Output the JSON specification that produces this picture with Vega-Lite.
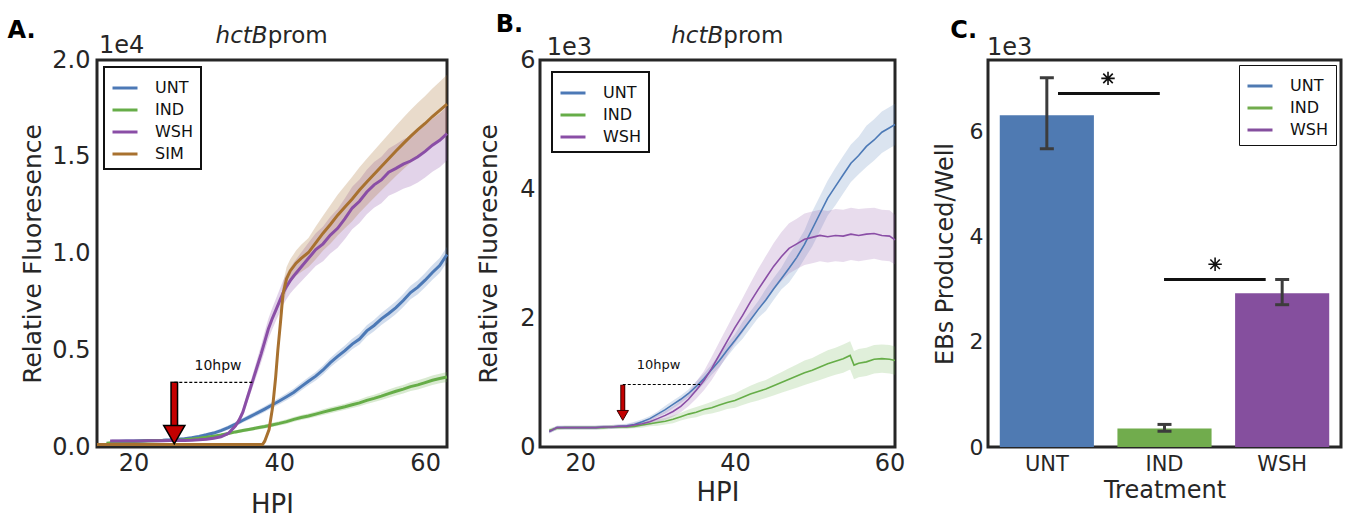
{
  "$schema": "https://vega.github.io/schema/vega-lite/v6.json",
  "background": "white",
  "padding": {"left": 5, "top": 11, "right": 5, "bottom": 5},
  "bounds": "flush",
  "spacing": 93,
  "config": {
    "font": "DejaVu Sans",
    "view": {"stroke": "#262626", "strokeWidth": 3},
    "axis": {"domain": false, "ticks": false, "grid": false, "labelColor": "#262626", "titleColor": "#262626", "labelFontSize": 24, "titleFontSize": 25, "titleFontWeight": "normal"},
    "legend": {"symbolType": "stroke", "symbolSize": 625, "symbolStrokeWidth": 3, "symbolOpacity": 1, "labelFontSize": 16, "labelColor": "#111111", "labelOffset": 16, "rowPadding": -1, "padding": 7, "strokeColor": "#111111", "fillColor": "#ffffff", "cornerRadius": 0}
  },
  "resolve": {"scale": {"color": "independent", "fill": "independent", "stroke": "independent"}},
  "datasets": {
    "a": [
      {"s":"UNT","h":17,"v":0.030,"lo":0.024,"hi":0.036},{"s":"UNT","h":18,"v":0.030,"lo":0.024,"hi":0.036},{"s":"UNT","h":19,"v":0.031,"lo":0.025,"hi":0.037},{"s":"UNT","h":20,"v":0.031,"lo":0.025,"hi":0.037},{"s":"UNT","h":21,"v":0.032,"lo":0.026,"hi":0.038},{"s":"UNT","h":22,"v":0.033,"lo":0.027,"hi":0.039},{"s":"UNT","h":23,"v":0.034,"lo":0.028,"hi":0.040},{"s":"UNT","h":24,"v":0.035,"lo":0.029,"hi":0.041},{"s":"UNT","h":25,"v":0.037,"lo":0.030,"hi":0.044},{"s":"UNT","h":26,"v":0.040,"lo":0.033,"hi":0.047},{"s":"UNT","h":27,"v":0.043,"lo":0.036,"hi":0.050},{"s":"UNT","h":28,"v":0.048,"lo":0.040,"hi":0.056},{"s":"UNT","h":29,"v":0.055,"lo":0.047,"hi":0.063},{"s":"UNT","h":30,"v":0.063,"lo":0.054,"hi":0.072},{"s":"UNT","h":31,"v":0.072,"lo":0.062,"hi":0.082},{"s":"UNT","h":32,"v":0.085,"lo":0.075,"hi":0.095},{"s":"UNT","h":33,"v":0.100,"lo":0.089,"hi":0.111},{"s":"UNT","h":34,"v":0.118,"lo":0.106,"hi":0.130},{"s":"UNT","h":35,"v":0.138,"lo":0.126,"hi":0.150},{"s":"UNT","h":36,"v":0.157,"lo":0.144,"hi":0.170},{"s":"UNT","h":37,"v":0.176,"lo":0.162,"hi":0.190},{"s":"UNT","h":38,"v":0.196,"lo":0.181,"hi":0.211},{"s":"UNT","h":39,"v":0.217,"lo":0.201,"hi":0.233},{"s":"UNT","h":40,"v":0.238,"lo":0.221,"hi":0.255},{"s":"UNT","h":41,"v":0.260,"lo":0.242,"hi":0.278},{"s":"UNT","h":42,"v":0.283,"lo":0.264,"hi":0.302},{"s":"UNT","h":43,"v":0.312,"lo":0.292,"hi":0.332},{"s":"UNT","h":44,"v":0.340,"lo":0.319,"hi":0.361},{"s":"UNT","h":45,"v":0.366,"lo":0.344,"hi":0.388},{"s":"UNT","h":46,"v":0.398,"lo":0.375,"hi":0.421},{"s":"UNT","h":47,"v":0.436,"lo":0.412,"hi":0.460},{"s":"UNT","h":48,"v":0.468,"lo":0.443,"hi":0.493},{"s":"UNT","h":49,"v":0.498,"lo":0.472,"hi":0.524},{"s":"UNT","h":50,"v":0.532,"lo":0.505,"hi":0.559},{"s":"UNT","h":51,"v":0.558,"lo":0.530,"hi":0.586},{"s":"UNT","h":52,"v":0.600,"lo":0.571,"hi":0.629},{"s":"UNT","h":53,"v":0.628,"lo":0.598,"hi":0.658},{"s":"UNT","h":54,"v":0.662,"lo":0.631,"hi":0.693},{"s":"UNT","h":55,"v":0.690,"lo":0.658,"hi":0.722},{"s":"UNT","h":56,"v":0.720,"lo":0.687,"hi":0.753},{"s":"UNT","h":57,"v":0.757,"lo":0.723,"hi":0.791},{"s":"UNT","h":58,"v":0.798,"lo":0.763,"hi":0.833},{"s":"UNT","h":59,"v":0.826,"lo":0.790,"hi":0.862},{"s":"UNT","h":60,"v":0.862,"lo":0.825,"hi":0.899},{"s":"UNT","h":61,"v":0.902,"lo":0.864,"hi":0.940},{"s":"UNT","h":62,"v":0.938,"lo":0.899,"hi":0.977},{"s":"UNT","h":63,"v":0.995,"lo":0.955,"hi":1.035},
      {"s":"IND","h":16.3,"v":0.020,"lo":0.015,"hi":0.025},{"s":"IND","h":17,"v":0.022,"lo":0.017,"hi":0.027},{"s":"IND","h":18,"v":0.025,"lo":0.020,"hi":0.030},{"s":"IND","h":19,"v":0.027,"lo":0.022,"hi":0.032},{"s":"IND","h":20,"v":0.028,"lo":0.023,"hi":0.033},{"s":"IND","h":21,"v":0.030,"lo":0.025,"hi":0.035},{"s":"IND","h":22,"v":0.031,"lo":0.026,"hi":0.036},{"s":"IND","h":23,"v":0.032,"lo":0.027,"hi":0.037},{"s":"IND","h":24,"v":0.033,"lo":0.028,"hi":0.038},{"s":"IND","h":25,"v":0.034,"lo":0.029,"hi":0.039},{"s":"IND","h":26,"v":0.036,"lo":0.031,"hi":0.041},{"s":"IND","h":27,"v":0.038,"lo":0.033,"hi":0.043},{"s":"IND","h":28,"v":0.041,"lo":0.035,"hi":0.047},{"s":"IND","h":29,"v":0.045,"lo":0.039,"hi":0.051},{"s":"IND","h":30,"v":0.050,"lo":0.044,"hi":0.056},{"s":"IND","h":31,"v":0.056,"lo":0.049,"hi":0.063},{"s":"IND","h":32,"v":0.062,"lo":0.055,"hi":0.069},{"s":"IND","h":33,"v":0.070,"lo":0.062,"hi":0.078},{"s":"IND","h":34,"v":0.078,"lo":0.070,"hi":0.086},{"s":"IND","h":35,"v":0.085,"lo":0.076,"hi":0.094},{"s":"IND","h":36,"v":0.092,"lo":0.083,"hi":0.101},{"s":"IND","h":37,"v":0.099,"lo":0.089,"hi":0.109},{"s":"IND","h":38,"v":0.106,"lo":0.096,"hi":0.116},{"s":"IND","h":39,"v":0.114,"lo":0.103,"hi":0.125},{"s":"IND","h":40,"v":0.122,"lo":0.111,"hi":0.133},{"s":"IND","h":41,"v":0.131,"lo":0.119,"hi":0.143},{"s":"IND","h":42,"v":0.143,"lo":0.131,"hi":0.155},{"s":"IND","h":43,"v":0.152,"lo":0.139,"hi":0.165},{"s":"IND","h":44,"v":0.160,"lo":0.147,"hi":0.173},{"s":"IND","h":45,"v":0.170,"lo":0.156,"hi":0.184},{"s":"IND","h":46,"v":0.180,"lo":0.165,"hi":0.195},{"s":"IND","h":47,"v":0.190,"lo":0.175,"hi":0.205},{"s":"IND","h":48,"v":0.199,"lo":0.183,"hi":0.215},{"s":"IND","h":49,"v":0.208,"lo":0.192,"hi":0.224},{"s":"IND","h":50,"v":0.218,"lo":0.201,"hi":0.235},{"s":"IND","h":51,"v":0.228,"lo":0.210,"hi":0.246},{"s":"IND","h":52,"v":0.241,"lo":0.222,"hi":0.260},{"s":"IND","h":53,"v":0.251,"lo":0.232,"hi":0.270},{"s":"IND","h":54,"v":0.263,"lo":0.243,"hi":0.283},{"s":"IND","h":55,"v":0.276,"lo":0.255,"hi":0.297},{"s":"IND","h":56,"v":0.288,"lo":0.266,"hi":0.310},{"s":"IND","h":57,"v":0.299,"lo":0.277,"hi":0.321},{"s":"IND","h":58,"v":0.312,"lo":0.289,"hi":0.335},{"s":"IND","h":59,"v":0.321,"lo":0.297,"hi":0.345},{"s":"IND","h":60,"v":0.333,"lo":0.309,"hi":0.357},{"s":"IND","h":61,"v":0.345,"lo":0.320,"hi":0.370},{"s":"IND","h":62,"v":0.354,"lo":0.329,"hi":0.379},{"s":"IND","h":63,"v":0.362,"lo":0.336,"hi":0.388},
      {"s":"WSH","h":16.8,"v":0.031,"lo":0.026,"hi":0.036},{"s":"WSH","h":18,"v":0.031,"lo":0.026,"hi":0.036},{"s":"WSH","h":19,"v":0.031,"lo":0.026,"hi":0.036},{"s":"WSH","h":20,"v":0.031,"lo":0.026,"hi":0.036},{"s":"WSH","h":21,"v":0.031,"lo":0.026,"hi":0.036},{"s":"WSH","h":22,"v":0.032,"lo":0.027,"hi":0.037},{"s":"WSH","h":23,"v":0.032,"lo":0.027,"hi":0.037},{"s":"WSH","h":24,"v":0.032,"lo":0.027,"hi":0.037},{"s":"WSH","h":25,"v":0.033,"lo":0.028,"hi":0.038},{"s":"WSH","h":26,"v":0.033,"lo":0.028,"hi":0.038},{"s":"WSH","h":27,"v":0.034,"lo":0.029,"hi":0.039},{"s":"WSH","h":28,"v":0.035,"lo":0.030,"hi":0.040},{"s":"WSH","h":29,"v":0.037,"lo":0.032,"hi":0.042},{"s":"WSH","h":30,"v":0.040,"lo":0.035,"hi":0.045},{"s":"WSH","h":31,"v":0.045,"lo":0.040,"hi":0.050},{"s":"WSH","h":32,"v":0.053,"lo":0.047,"hi":0.059},{"s":"WSH","h":33,"v":0.070,"lo":0.062,"hi":0.078},{"s":"WSH","h":34,"v":0.110,"lo":0.098,"hi":0.122},{"s":"WSH","h":34.5,"v":0.140,"lo":0.125,"hi":0.155},{"s":"WSH","h":35,"v":0.180,"lo":0.160,"hi":0.200},{"s":"WSH","h":35.5,"v":0.240,"lo":0.215,"hi":0.265},{"s":"WSH","h":36,"v":0.300,"lo":0.270,"hi":0.330},{"s":"WSH","h":36.5,"v":0.360,"lo":0.325,"hi":0.395},{"s":"WSH","h":37,"v":0.420,"lo":0.380,"hi":0.460},{"s":"WSH","h":37.5,"v":0.480,"lo":0.435,"hi":0.525},{"s":"WSH","h":38,"v":0.545,"lo":0.495,"hi":0.595},{"s":"WSH","h":38.5,"v":0.610,"lo":0.557,"hi":0.663},{"s":"WSH","h":39,"v":0.660,"lo":0.605,"hi":0.715},{"s":"WSH","h":39.5,"v":0.705,"lo":0.648,"hi":0.762},{"s":"WSH","h":40,"v":0.750,"lo":0.690,"hi":0.810},{"s":"WSH","h":40.5,"v":0.795,"lo":0.732,"hi":0.858},{"s":"WSH","h":41,"v":0.830,"lo":0.765,"hi":0.895},{"s":"WSH","h":41.5,"v":0.860,"lo":0.793,"hi":0.927},{"s":"WSH","h":42,"v":0.885,"lo":0.815,"hi":0.955},{"s":"WSH","h":43,"v":0.930,"lo":0.855,"hi":1.005},{"s":"WSH","h":44,"v":0.975,"lo":0.895,"hi":1.055},{"s":"WSH","h":45,"v":1.020,"lo":0.935,"hi":1.105},{"s":"WSH","h":46,"v":1.050,"lo":0.960,"hi":1.140},{"s":"WSH","h":47,"v":1.095,"lo":1.000,"hi":1.190},{"s":"WSH","h":48,"v":1.130,"lo":1.030,"hi":1.230},{"s":"WSH","h":49,"v":1.180,"lo":1.075,"hi":1.285},{"s":"WSH","h":50,"v":1.235,"lo":1.125,"hi":1.345},{"s":"WSH","h":51,"v":1.270,"lo":1.158,"hi":1.382},{"s":"WSH","h":52,"v":1.318,"lo":1.203,"hi":1.433},{"s":"WSH","h":53,"v":1.355,"lo":1.237,"hi":1.473},{"s":"WSH","h":54,"v":1.380,"lo":1.260,"hi":1.500},{"s":"WSH","h":55,"v":1.420,"lo":1.298,"hi":1.542},{"s":"WSH","h":56,"v":1.440,"lo":1.315,"hi":1.565},{"s":"WSH","h":57,"v":1.462,"lo":1.335,"hi":1.589},{"s":"WSH","h":58,"v":1.478,"lo":1.348,"hi":1.608},{"s":"WSH","h":59,"v":1.500,"lo":1.367,"hi":1.633},{"s":"WSH","h":60,"v":1.528,"lo":1.393,"hi":1.663},{"s":"WSH","h":61,"v":1.560,"lo":1.423,"hi":1.697},{"s":"WSH","h":62,"v":1.585,"lo":1.446,"hi":1.724},{"s":"WSH","h":63,"v":1.620,"lo":1.480,"hi":1.760},
      {"s":"SIM","h":15,"v":0.013,"lo":0.013,"hi":0.013},{"s":"SIM","h":20,"v":0.013,"lo":0.013,"hi":0.013},{"s":"SIM","h":25,"v":0.013,"lo":0.013,"hi":0.013},{"s":"SIM","h":30,"v":0.013,"lo":0.013,"hi":0.013},{"s":"SIM","h":35,"v":0.013,"lo":0.013,"hi":0.013},{"s":"SIM","h":37.7,"v":0.013,"lo":0.013,"hi":0.013},{"s":"SIM","h":38,"v":0.030,"lo":0.025,"hi":0.035},{"s":"SIM","h":38.6,"v":0.090,"lo":0.080,"hi":0.100},{"s":"SIM","h":39.1,"v":0.210,"lo":0.190,"hi":0.230},{"s":"SIM","h":39.5,"v":0.360,"lo":0.330,"hi":0.390},{"s":"SIM","h":39.8,"v":0.500,"lo":0.460,"hi":0.540},{"s":"SIM","h":40.2,"v":0.660,"lo":0.610,"hi":0.710},{"s":"SIM","h":40.5,"v":0.790,"lo":0.735,"hi":0.845},{"s":"SIM","h":41,"v":0.870,"lo":0.810,"hi":0.930},{"s":"SIM","h":41.5,"v":0.910,"lo":0.850,"hi":0.970},{"s":"SIM","h":42.3,"v":0.950,"lo":0.885,"hi":1.015},{"s":"SIM","h":43,"v":0.975,"lo":0.905,"hi":1.045},{"s":"SIM","h":44,"v":1.005,"lo":0.930,"hi":1.080},{"s":"SIM","h":45,"v":1.055,"lo":0.970,"hi":1.140},{"s":"SIM","h":46,"v":1.105,"lo":1.015,"hi":1.195},{"s":"SIM","h":47,"v":1.150,"lo":1.050,"hi":1.250},{"s":"SIM","h":48,"v":1.198,"lo":1.093,"hi":1.303},{"s":"SIM","h":49,"v":1.240,"lo":1.130,"hi":1.350},{"s":"SIM","h":50,"v":1.282,"lo":1.167,"hi":1.397},{"s":"SIM","h":51,"v":1.328,"lo":1.210,"hi":1.446},{"s":"SIM","h":52,"v":1.370,"lo":1.250,"hi":1.490},{"s":"SIM","h":53,"v":1.410,"lo":1.288,"hi":1.532},{"s":"SIM","h":54,"v":1.450,"lo":1.325,"hi":1.575},{"s":"SIM","h":55,"v":1.490,"lo":1.363,"hi":1.617},{"s":"SIM","h":56,"v":1.530,"lo":1.400,"hi":1.660},{"s":"SIM","h":57,"v":1.568,"lo":1.435,"hi":1.701},{"s":"SIM","h":58,"v":1.605,"lo":1.469,"hi":1.741},{"s":"SIM","h":59,"v":1.640,"lo":1.501,"hi":1.779},{"s":"SIM","h":60,"v":1.672,"lo":1.530,"hi":1.814},{"s":"SIM","h":61,"v":1.708,"lo":1.563,"hi":1.853},{"s":"SIM","h":62,"v":1.740,"lo":1.592,"hi":1.888},{"s":"SIM","h":63,"v":1.772,"lo":1.620,"hi":1.924}
    ],
    "b": [
      {"s":"UNT","h":16,"v":0.24,"lo":0.21,"hi":0.27},{"s":"UNT","h":17,"v":0.30,"lo":0.27,"hi":0.33},{"s":"UNT","h":18,"v":0.30,"lo":0.27,"hi":0.33},{"s":"UNT","h":19,"v":0.30,"lo":0.27,"hi":0.33},{"s":"UNT","h":20,"v":0.30,"lo":0.27,"hi":0.33},{"s":"UNT","h":21,"v":0.30,"lo":0.27,"hi":0.33},{"s":"UNT","h":22,"v":0.30,"lo":0.27,"hi":0.33},{"s":"UNT","h":23,"v":0.31,"lo":0.28,"hi":0.34},{"s":"UNT","h":24,"v":0.31,"lo":0.28,"hi":0.34},{"s":"UNT","h":25,"v":0.32,"lo":0.29,"hi":0.35},{"s":"UNT","h":26,"v":0.33,"lo":0.30,"hi":0.36},{"s":"UNT","h":27,"v":0.35,"lo":0.31,"hi":0.39},{"s":"UNT","h":28,"v":0.39,"lo":0.35,"hi":0.43},{"s":"UNT","h":29,"v":0.44,"lo":0.40,"hi":0.48},{"s":"UNT","h":30,"v":0.51,"lo":0.47,"hi":0.55},{"s":"UNT","h":31,"v":0.58,"lo":0.52,"hi":0.64},{"s":"UNT","h":32,"v":0.66,"lo":0.60,"hi":0.72},{"s":"UNT","h":33,"v":0.74,"lo":0.68,"hi":0.80},{"s":"UNT","h":34,"v":0.83,"lo":0.77,"hi":0.89},{"s":"UNT","h":35,"v":0.94,"lo":0.86,"hi":1.02},{"s":"UNT","h":36,"v":1.06,"lo":0.98,"hi":1.14},{"s":"UNT","h":37,"v":1.20,"lo":1.12,"hi":1.28},{"s":"UNT","h":38,"v":1.34,"lo":1.24,"hi":1.44},{"s":"UNT","h":39,"v":1.50,"lo":1.40,"hi":1.60},{"s":"UNT","h":40,"v":1.65,"lo":1.55,"hi":1.75},{"s":"UNT","h":41,"v":1.81,"lo":1.68,"hi":1.94},{"s":"UNT","h":42,"v":1.97,"lo":1.84,"hi":2.10},{"s":"UNT","h":43,"v":2.13,"lo":2.00,"hi":2.26},{"s":"UNT","h":44,"v":2.28,"lo":2.11,"hi":2.45},{"s":"UNT","h":45,"v":2.45,"lo":2.28,"hi":2.62},{"s":"UNT","h":46,"v":2.61,"lo":2.44,"hi":2.78},{"s":"UNT","h":47,"v":2.77,"lo":2.55,"hi":2.99},{"s":"UNT","h":48,"v":2.94,"lo":2.72,"hi":3.16},{"s":"UNT","h":49,"v":3.14,"lo":2.92,"hi":3.36},{"s":"UNT","h":50,"v":3.38,"lo":3.11,"hi":3.65},{"s":"UNT","h":51,"v":3.62,"lo":3.35,"hi":3.89},{"s":"UNT","h":52,"v":3.86,"lo":3.59,"hi":4.13},{"s":"UNT","h":53,"v":4.04,"lo":3.75,"hi":4.33},{"s":"UNT","h":54,"v":4.22,"lo":3.93,"hi":4.51},{"s":"UNT","h":55,"v":4.40,"lo":4.11,"hi":4.69},{"s":"UNT","h":56,"v":4.52,"lo":4.23,"hi":4.81},{"s":"UNT","h":57,"v":4.66,"lo":4.34,"hi":4.98},{"s":"UNT","h":58,"v":4.76,"lo":4.44,"hi":5.08},{"s":"UNT","h":59,"v":4.88,"lo":4.56,"hi":5.20},{"s":"UNT","h":60,"v":4.95,"lo":4.63,"hi":5.27},{"s":"UNT","h":60.7,"v":5.00,"lo":4.68,"hi":5.32},
      {"s":"IND","h":16,"v":0.26,"lo":0.23,"hi":0.29},{"s":"IND","h":17,"v":0.29,"lo":0.26,"hi":0.32},{"s":"IND","h":18,"v":0.30,"lo":0.27,"hi":0.33},{"s":"IND","h":19,"v":0.30,"lo":0.27,"hi":0.33},{"s":"IND","h":20,"v":0.30,"lo":0.27,"hi":0.33},{"s":"IND","h":21,"v":0.30,"lo":0.27,"hi":0.33},{"s":"IND","h":22,"v":0.30,"lo":0.27,"hi":0.33},{"s":"IND","h":23,"v":0.30,"lo":0.27,"hi":0.33},{"s":"IND","h":24,"v":0.31,"lo":0.28,"hi":0.34},{"s":"IND","h":25,"v":0.31,"lo":0.28,"hi":0.34},{"s":"IND","h":26,"v":0.31,"lo":0.28,"hi":0.34},{"s":"IND","h":27,"v":0.32,"lo":0.29,"hi":0.35},{"s":"IND","h":28,"v":0.34,"lo":0.30,"hi":0.38},{"s":"IND","h":29,"v":0.36,"lo":0.32,"hi":0.40},{"s":"IND","h":30,"v":0.38,"lo":0.33,"hi":0.43},{"s":"IND","h":31,"v":0.40,"lo":0.35,"hi":0.45},{"s":"IND","h":32,"v":0.43,"lo":0.37,"hi":0.49},{"s":"IND","h":33,"v":0.47,"lo":0.41,"hi":0.53},{"s":"IND","h":34,"v":0.51,"lo":0.44,"hi":0.58},{"s":"IND","h":35,"v":0.54,"lo":0.46,"hi":0.62},{"s":"IND","h":36,"v":0.58,"lo":0.50,"hi":0.66},{"s":"IND","h":37,"v":0.61,"lo":0.52,"hi":0.70},{"s":"IND","h":38,"v":0.65,"lo":0.55,"hi":0.75},{"s":"IND","h":39,"v":0.69,"lo":0.59,"hi":0.79},{"s":"IND","h":40,"v":0.72,"lo":0.61,"hi":0.83},{"s":"IND","h":41,"v":0.77,"lo":0.65,"hi":0.89},{"s":"IND","h":42,"v":0.82,"lo":0.69,"hi":0.95},{"s":"IND","h":43,"v":0.86,"lo":0.72,"hi":1.00},{"s":"IND","h":44,"v":0.90,"lo":0.76,"hi":1.04},{"s":"IND","h":45,"v":0.95,"lo":0.80,"hi":1.10},{"s":"IND","h":46,"v":1.00,"lo":0.84,"hi":1.16},{"s":"IND","h":47,"v":1.05,"lo":0.88,"hi":1.22},{"s":"IND","h":48,"v":1.10,"lo":0.92,"hi":1.28},{"s":"IND","h":49,"v":1.15,"lo":0.96,"hi":1.34},{"s":"IND","h":50,"v":1.19,"lo":1.00,"hi":1.38},{"s":"IND","h":51,"v":1.24,"lo":1.04,"hi":1.44},{"s":"IND","h":52,"v":1.29,"lo":1.08,"hi":1.50},{"s":"IND","h":53,"v":1.33,"lo":1.12,"hi":1.54},{"s":"IND","h":54,"v":1.37,"lo":1.15,"hi":1.59},{"s":"IND","h":54.9,"v":1.42,"lo":1.20,"hi":1.64},{"s":"IND","h":55.4,"v":1.27,"lo":1.05,"hi":1.49},{"s":"IND","h":56,"v":1.30,"lo":1.08,"hi":1.52},{"s":"IND","h":57,"v":1.32,"lo":1.10,"hi":1.54},{"s":"IND","h":58,"v":1.36,"lo":1.14,"hi":1.58},{"s":"IND","h":59,"v":1.37,"lo":1.15,"hi":1.59},{"s":"IND","h":60,"v":1.36,"lo":1.14,"hi":1.58},{"s":"IND","h":60.7,"v":1.34,"lo":1.12,"hi":1.56},
      {"s":"WSH","h":16,"v":0.24,"lo":0.21,"hi":0.27},{"s":"WSH","h":17,"v":0.30,"lo":0.27,"hi":0.33},{"s":"WSH","h":18,"v":0.30,"lo":0.27,"hi":0.33},{"s":"WSH","h":19,"v":0.30,"lo":0.27,"hi":0.33},{"s":"WSH","h":20,"v":0.30,"lo":0.27,"hi":0.33},{"s":"WSH","h":21,"v":0.30,"lo":0.27,"hi":0.33},{"s":"WSH","h":22,"v":0.30,"lo":0.27,"hi":0.33},{"s":"WSH","h":23,"v":0.31,"lo":0.28,"hi":0.34},{"s":"WSH","h":24,"v":0.31,"lo":0.28,"hi":0.34},{"s":"WSH","h":25,"v":0.32,"lo":0.29,"hi":0.35},{"s":"WSH","h":26,"v":0.32,"lo":0.29,"hi":0.35},{"s":"WSH","h":27,"v":0.34,"lo":0.30,"hi":0.38},{"s":"WSH","h":28,"v":0.36,"lo":0.32,"hi":0.40},{"s":"WSH","h":29,"v":0.39,"lo":0.34,"hi":0.44},{"s":"WSH","h":30,"v":0.44,"lo":0.38,"hi":0.50},{"s":"WSH","h":31,"v":0.49,"lo":0.42,"hi":0.56},{"s":"WSH","h":32,"v":0.55,"lo":0.47,"hi":0.63},{"s":"WSH","h":33,"v":0.63,"lo":0.54,"hi":0.72},{"s":"WSH","h":34,"v":0.74,"lo":0.63,"hi":0.85},{"s":"WSH","h":35,"v":0.88,"lo":0.75,"hi":1.01},{"s":"WSH","h":36,"v":1.03,"lo":0.88,"hi":1.18},{"s":"WSH","h":37,"v":1.22,"lo":1.04,"hi":1.40},{"s":"WSH","h":38,"v":1.43,"lo":1.23,"hi":1.63},{"s":"WSH","h":39,"v":1.64,"lo":1.42,"hi":1.86},{"s":"WSH","h":40,"v":1.85,"lo":1.61,"hi":2.09},{"s":"WSH","h":41,"v":2.04,"lo":1.77,"hi":2.31},{"s":"WSH","h":42,"v":2.25,"lo":1.96,"hi":2.54},{"s":"WSH","h":43,"v":2.44,"lo":2.12,"hi":2.76},{"s":"WSH","h":44,"v":2.62,"lo":2.28,"hi":2.96},{"s":"WSH","h":45,"v":2.80,"lo":2.44,"hi":3.16},{"s":"WSH","h":46,"v":2.95,"lo":2.57,"hi":3.33},{"s":"WSH","h":47,"v":3.08,"lo":2.69,"hi":3.47},{"s":"WSH","h":48,"v":3.15,"lo":2.76,"hi":3.54},{"s":"WSH","h":49,"v":3.22,"lo":2.82,"hi":3.62},{"s":"WSH","h":50,"v":3.25,"lo":2.85,"hi":3.65},{"s":"WSH","h":51,"v":3.28,"lo":2.88,"hi":3.68},{"s":"WSH","h":52,"v":3.26,"lo":2.86,"hi":3.66},{"s":"WSH","h":53,"v":3.28,"lo":2.88,"hi":3.69},{"s":"WSH","h":54,"v":3.27,"lo":2.87,"hi":3.68},{"s":"WSH","h":55,"v":3.30,"lo":2.90,"hi":3.71},{"s":"WSH","h":56,"v":3.28,"lo":2.88,"hi":3.69},{"s":"WSH","h":57,"v":3.30,"lo":2.90,"hi":3.70},{"s":"WSH","h":58,"v":3.31,"lo":2.92,"hi":3.71},{"s":"WSH","h":59,"v":3.28,"lo":2.89,"hi":3.68},{"s":"WSH","h":60,"v":3.27,"lo":2.88,"hi":3.67},{"s":"WSH","h":60.7,"v":3.21,"lo":2.83,"hi":3.60}
    ],
    "c": [
      {"t":"UNT","v":6.32,"lo":5.68,"hi":7.03},
      {"t":"IND","v":0.35,"lo":0.30,"hi":0.43},
      {"t":"WSH","v":2.93,"lo":2.71,"hi":3.19}
    ]
  },
  "hconcat": [
    {
      "width": 350, "height": 387,
      "layer": [
        {"data": {"name": "a"}, "mark": {"type": "area", "opacity": 0.25},
         "encoding": {
           "x": {"field": "h", "type": "quantitative", "scale": {"domain": [15, 63], "nice": false, "zero": false}, "axis": {"values": [20, 40, 60], "title": "HPI", "labelPadding": 4, "titlePadding": 16, "titleFontSize": 26}},
           "y": {"field": "lo", "type": "quantitative", "scale": {"domain": [0, 2], "nice": false}, "axis": {"values": [0, 0.5, 1, 1.5, 2], "format": ".1f", "title": "Relative Fluoresence", "labelPadding": 7, "titlePadding": 6}},
           "y2": {"field": "hi"},
           "fill": {"field": "s", "type": "nominal", "scale": {"domain": ["SIM","WSH","IND","UNT"], "range": ["#a8712f","#8a4ea6","#66ad48","#4c79b6"]}, "legend": null}
         }},
        {"data": {"name": "a"}, "mark": {"type": "line", "strokeWidth": 3},
         "encoding": {
           "x": {"field": "h", "type": "quantitative", "scale": {"domain": [15, 63], "nice": false, "zero": false}, "axis": {"values": [20, 40, 60], "title": "HPI", "labelPadding": 4, "titlePadding": 16, "titleFontSize": 26}},
           "y": {"field": "v", "type": "quantitative", "scale": {"domain": [0, 2], "nice": false}, "axis": {"values": [0, 0.5, 1, 1.5, 2], "format": ".1f", "title": "Relative Fluoresence", "labelPadding": 7, "titlePadding": 6}},
           "color": {"field": "s", "type": "nominal", "scale": {"domain": ["UNT","IND","WSH","SIM"], "range": ["#4c79b6","#66ad48","#8a4ea6","#a8712f"]}, "legend": {"title": null, "orient": "top-left", "offset": 7, "encode": {"legend": {"update": {"strokeWidth": {"value": 2}}}, "symbols": {"update": {"strokeWidth": {"value": 3}}}}}}
         }},
        {"data": {"values": [{}]}, "mark": {"type": "rule", "color": "black", "strokeWidth": 8},
         "encoding": {"x": {"datum": 25.6, "type": "quantitative"}, "y": {"datum": 0.338, "type": "quantitative"}, "y2": {"datum": 0.08}}},
        {"data": {"values": [{}]}, "mark": {"type": "rule", "color": "#c40000", "strokeWidth": 5},
         "encoding": {"x": {"datum": 25.6, "type": "quantitative"}, "y": {"datum": 0.332, "type": "quantitative"}, "y2": {"datum": 0.08}}},
        {"data": {"values": [{}]}, "mark": {"type": "point", "shape": "triangle-down", "size": 450, "filled": true, "fill": "#c40000", "stroke": "black", "strokeWidth": 1.5, "opacity": 1},
         "encoding": {"x": {"datum": 25.6, "type": "quantitative"}, "y": {"datum": 0.064, "type": "quantitative"}}},
        {"data": {"values": [{}]}, "mark": {"type": "rule", "color": "black", "strokeWidth": 1.2, "strokeDash": [3, 2]},
         "encoding": {"x": {"datum": 25.6, "type": "quantitative"}, "x2": {"datum": 36.3}, "y": {"datum": 0.334, "type": "quantitative"}}},
        {"data": {"values": [{}]}, "mark": {"type": "text", "text": "10hpw", "fontSize": 14, "align": "center", "baseline": "middle", "color": "#111111"},
         "encoding": {"x": {"datum": 31.6, "type": "quantitative"}, "y": {"datum": 0.42, "type": "quantitative"}}},
        {"data": {"values": [{}]}, "mark": {"type": "text", "text": "A.", "fontSize": 24, "fontWeight": "bold", "align": "left", "baseline": "alphabetic", "color": "black"},
         "encoding": {"x": {"datum": 2.72, "type": "quantitative"}, "y": {"datum": 2.114, "type": "quantitative"}}},
        {"data": {"values": [{}]}, "mark": {"type": "text", "text": "hctB", "fontSize": 23, "fontStyle": "italic", "align": "right", "baseline": "alphabetic", "color": "#262626"},
         "encoding": {"x": {"datum": 38.4, "type": "quantitative"}, "y": {"datum": 2.088, "type": "quantitative"}}},
        {"data": {"values": [{}]}, "mark": {"type": "text", "text": "prom", "fontSize": 23, "align": "left", "baseline": "alphabetic", "color": "#262626"},
         "encoding": {"x": {"datum": 38.4, "type": "quantitative"}, "y": {"datum": 2.088, "type": "quantitative"}}},
        {"data": {"values": [{}]}, "mark": {"type": "text", "text": "1e4", "fontSize": 24, "align": "left", "baseline": "alphabetic", "color": "#262626"},
         "encoding": {"x": {"datum": 15.28, "type": "quantitative"}, "y": {"datum": 2.036, "type": "quantitative"}}}
      ]
    },
    {
      "width": 355, "height": 387,
      "layer": [
        {"data": {"name": "b"}, "mark": {"type": "area", "opacity": 0.2},
         "encoding": {
           "x": {"field": "h", "type": "quantitative", "scale": {"domain": [14.8, 60.7], "nice": false, "zero": false}, "axis": {"values": [20, 40, 60], "title": "HPI", "labelPadding": 4, "titlePadding": 4, "titleFontSize": 26}},
           "y": {"field": "lo", "type": "quantitative", "scale": {"domain": [0, 6], "nice": false}, "axis": {"values": [0, 2, 4, 6], "format": "d", "title": "Relative Fluoresence", "labelPadding": 5, "titlePadding": 18}},
           "y2": {"field": "hi"},
           "fill": {"field": "s", "type": "nominal", "scale": {"domain": ["WSH","IND","UNT"], "range": ["#8a4ea6","#66ad48","#4c79b6"]}, "legend": null}
         }},
        {"data": {"name": "b"}, "mark": {"type": "line", "strokeWidth": 1.6},
         "encoding": {
           "x": {"field": "h", "type": "quantitative", "scale": {"domain": [14.8, 60.7], "nice": false, "zero": false}, "axis": {"values": [20, 40, 60], "title": "HPI", "labelPadding": 4, "titlePadding": 4, "titleFontSize": 26}},
           "y": {"field": "v", "type": "quantitative", "scale": {"domain": [0, 6], "nice": false}, "axis": {"values": [0, 2, 4, 6], "format": "d", "title": "Relative Fluoresence", "labelPadding": 5, "titlePadding": 18}},
           "color": {"field": "s", "type": "nominal", "scale": {"domain": ["UNT","IND","WSH"], "range": ["#4c79b6","#66ad48","#8a4ea6"]}, "legend": {"title": null, "orient": "top-left", "offset": 12, "encode": {"legend": {"update": {"strokeWidth": {"value": 2}}}, "symbols": {"update": {"strokeWidth": {"value": 3}}}}}}
         }},
        {"data": {"values": [{}]}, "mark": {"type": "rule", "color": "#3a0000", "strokeWidth": 5},
         "encoding": {"x": {"datum": 25.5, "type": "quantitative"}, "y": {"datum": 0.965, "type": "quantitative"}, "y2": {"datum": 0.56}}},
        {"data": {"values": [{}]}, "mark": {"type": "rule", "color": "#c40000", "strokeWidth": 3},
         "encoding": {"x": {"datum": 25.5, "type": "quantitative"}, "y": {"datum": 0.955, "type": "quantitative"}, "y2": {"datum": 0.56}}},
        {"data": {"values": [{}]}, "mark": {"type": "point", "shape": "triangle-down", "size": 130, "filled": true, "fill": "#c40000", "stroke": "#3a0000", "strokeWidth": 1, "opacity": 1},
         "encoding": {"x": {"datum": 25.5, "type": "quantitative"}, "y": {"datum": 0.49, "type": "quantitative"}}},
        {"data": {"values": [{}]}, "mark": {"type": "rule", "color": "black", "strokeWidth": 1.1, "strokeDash": [3, 2]},
         "encoding": {"x": {"datum": 25.5, "type": "quantitative"}, "x2": {"datum": 35.5}, "y": {"datum": 0.97, "type": "quantitative"}}},
        {"data": {"values": [{}]}, "mark": {"type": "text", "text": "10hpw", "fontSize": 13, "align": "center", "baseline": "middle", "color": "#111111"},
         "encoding": {"x": {"datum": 30.13, "type": "quantitative"}, "y": {"datum": 1.27, "type": "quantitative"}}},
        {"data": {"values": [{}]}, "mark": {"type": "text", "text": "B.", "fontSize": 24, "fontWeight": "bold", "align": "left", "baseline": "alphabetic", "color": "black"},
         "encoding": {"x": {"datum": 9.07, "type": "quantitative"}, "y": {"datum": 6.44, "type": "quantitative"}}},
        {"data": {"values": [{}]}, "mark": {"type": "text", "text": "hctB", "fontSize": 23, "fontStyle": "italic", "align": "right", "baseline": "alphabetic", "color": "#262626"},
         "encoding": {"x": {"datum": 38.5, "type": "quantitative"}, "y": {"datum": 6.27, "type": "quantitative"}}},
        {"data": {"values": [{}]}, "mark": {"type": "text", "text": "prom", "fontSize": 23, "align": "left", "baseline": "alphabetic", "color": "#262626"},
         "encoding": {"x": {"datum": 38.5, "type": "quantitative"}, "y": {"datum": 6.27, "type": "quantitative"}}},
        {"data": {"values": [{}]}, "mark": {"type": "text", "text": "1e3", "fontSize": 24, "align": "left", "baseline": "alphabetic", "color": "#262626"},
         "encoding": {"x": {"datum": 15.66, "type": "quantitative"}, "y": {"datum": 6.085, "type": "quantitative"}}}
      ]
    },
    {
      "width": 353, "height": 387,
      "resolve": {"scale": {"x": "independent"}},
      "layer": [
        {
          "data": {"name": "c"},
          "layer": [
            {"mark": {"type": "bar", "strokeWidth": 0},
             "encoding": {
               "x": {"field": "t", "type": "nominal", "sort": ["UNT","IND","WSH"], "scale": {"paddingInner": 0.2, "paddingOuter": 0.1}, "axis": {"title": "Treatment", "labelAngle": 0, "labelFontSize": 21, "titleFontSize": 24, "labelPadding": 6, "titlePadding": 4}},
               "y": {"field": "v", "type": "quantitative", "scale": {"domain": [0, 7.37], "nice": false}, "axis": {"values": [0, 2, 4, 6], "format": "d", "title": "EBs Produced/Well", "titleFontSize": 24, "labelFontSize": 22, "labelPadding": 5, "titlePadding": 12}},
               "fill": {"field": "t", "type": "nominal", "scale": {"domain": ["WSH","IND","UNT"], "range": ["#854f9e","#71ac4d","#4f7ab2"]}, "legend": null},
               "stroke": {"field": "t", "type": "nominal", "scale": {"domain": ["UNT","IND","WSH"], "range": ["#4f7ab2","#71ac4d","#854f9e"]}, "legend": {"title": null, "orient": "top-right", "offset": 5, "encode": {"legend": {"update": {"strokeWidth": {"value": 2}}}, "symbols": {"update": {"strokeWidth": {"value": 3}}}}}}
             }},
            {"mark": {"type": "rule", "color": "#3c3c3c", "strokeWidth": 3},
             "encoding": {
               "x": {"field": "t", "type": "nominal", "sort": ["UNT","IND","WSH"]},
               "y": {"field": "lo", "type": "quantitative"},
               "y2": {"field": "hi"}
             }},
            {"mark": {"type": "tick", "color": "#3c3c3c", "size": 14, "thickness": 3, "opacity": 1},
             "encoding": {
               "x": {"field": "t", "type": "nominal", "sort": ["UNT","IND","WSH"]},
               "y": {"field": "lo", "type": "quantitative"}
             }},
            {"mark": {"type": "tick", "color": "#3c3c3c", "size": 14, "thickness": 3, "opacity": 1},
             "encoding": {
               "x": {"field": "t", "type": "nominal", "sort": ["UNT","IND","WSH"]},
               "y": {"field": "hi", "type": "quantitative"}
             }}
          ]
        },
        {
          "data": {"values": [{}]},
          "layer": [
            {"mark": {"type": "rule", "color": "#111111", "strokeWidth": 3},
             "encoding": {"x": {"datum": 0.095, "type": "quantitative", "scale": {"domain": [-0.5, 2.5], "nice": false, "zero": false}, "axis": null}, "x2": {"datum": 0.96}, "y": {"datum": 6.73, "type": "quantitative"}}},
            {"mark": {"type": "rule", "color": "#111111", "strokeWidth": 3},
             "encoding": {"x": {"datum": 0.996, "type": "quantitative", "scale": {"domain": [-0.5, 2.5], "nice": false, "zero": false}, "axis": null}, "x2": {"datum": 1.86}, "y": {"datum": 3.19, "type": "quantitative"}}},
            {"mark": {"type": "point", "shape": "M0,-1L0,1M-1,0L1,0M-0.71,-0.71L0.71,0.71M-0.71,0.71L0.71,-0.71", "size": 180, "filled": false, "stroke": "#111111", "strokeWidth": 1.6, "opacity": 1},
             "encoding": {"x": {"datum": 0.52, "type": "quantitative", "scale": {"domain": [-0.5, 2.5], "nice": false, "zero": false}, "axis": null}, "y": {"datum": 7.02, "type": "quantitative"}}},
            {"mark": {"type": "point", "shape": "M0,-1L0,1M-1,0L1,0M-0.71,-0.71L0.71,0.71M-0.71,0.71L0.71,-0.71", "size": 180, "filled": false, "stroke": "#111111", "strokeWidth": 1.6, "opacity": 1},
             "encoding": {"x": {"datum": 1.43, "type": "quantitative", "scale": {"domain": [-0.5, 2.5], "nice": false, "zero": false}, "axis": null}, "y": {"datum": 3.48, "type": "quantitative"}}},
            {"mark": {"type": "text", "text": "C.", "fontSize": 24, "fontWeight": "bold", "align": "left", "baseline": "alphabetic", "color": "black"},
             "encoding": {"x": {"datum": -0.82, "type": "quantitative", "scale": {"domain": [-0.5, 2.5], "nice": false, "zero": false}, "axis": null}, "y": {"datum": 7.785, "type": "quantitative"}}},
            {"mark": {"type": "text", "text": "1e3", "fontSize": 24, "align": "left", "baseline": "alphabetic", "color": "#262626"},
             "encoding": {"x": {"datum": -0.508, "type": "quantitative", "scale": {"domain": [-0.5, 2.5], "nice": false, "zero": false}, "axis": null}, "y": {"datum": 7.46, "type": "quantitative"}}}
          ]
        }
      ]
    }
  ]
}
